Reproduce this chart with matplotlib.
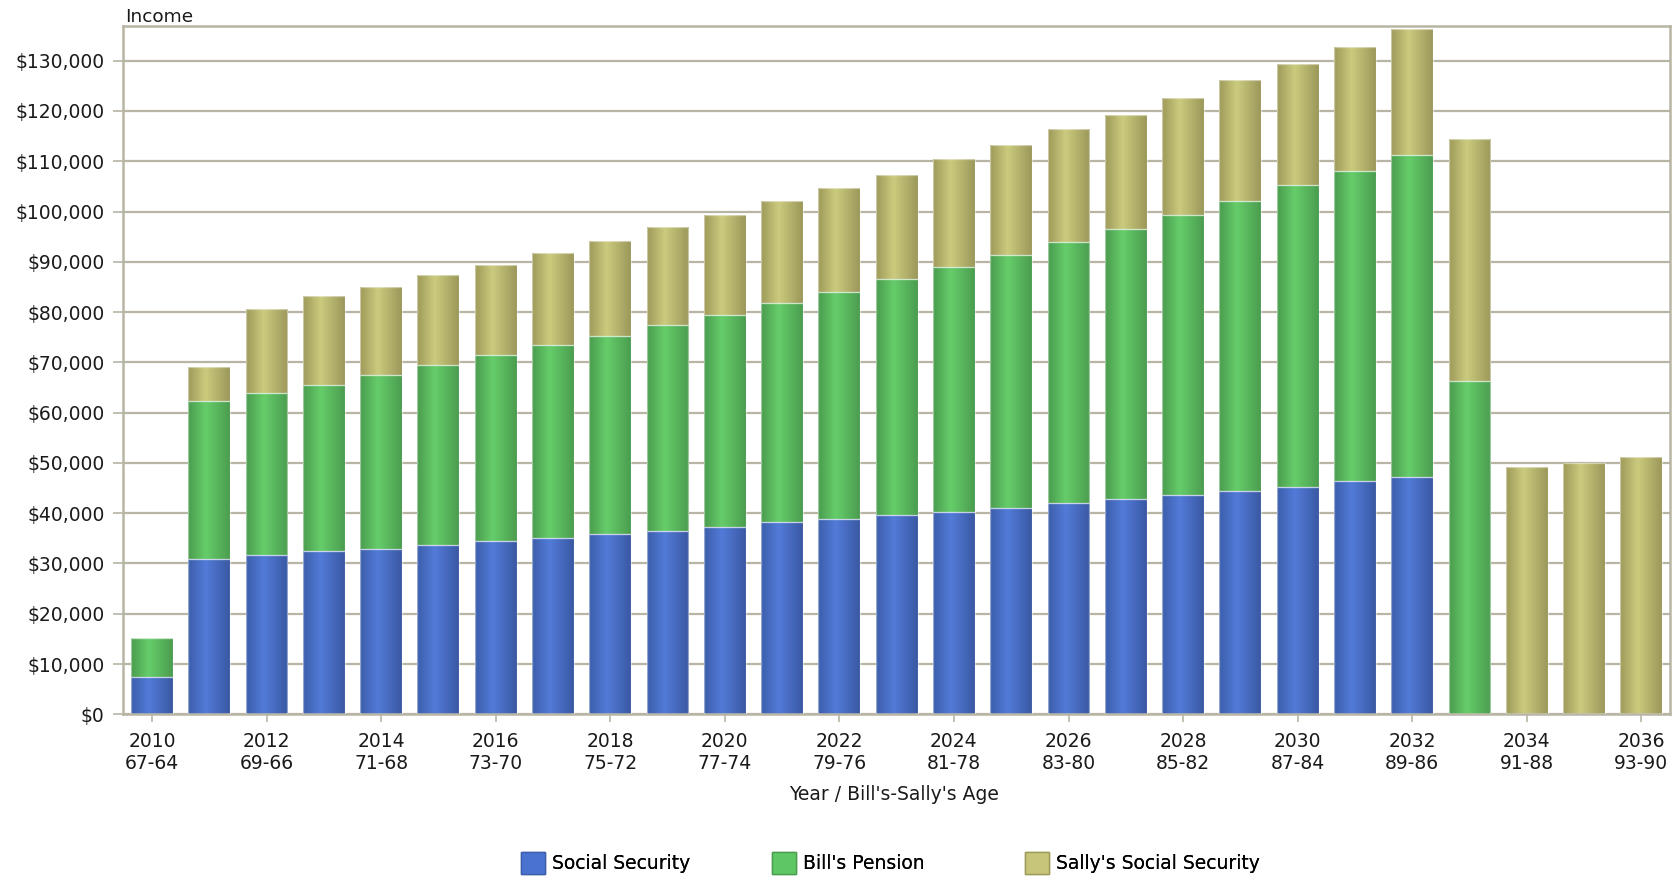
import numpy as np
import matplotlib
matplotlib.use("Agg")
import matplotlib.pyplot as plt
from matplotlib.colors import LinearSegmentedColormap
from matplotlib.patches import Patch

years = list(range(2010, 2037))
ages = ["67-64", "68-65", "69-66", "70-67", "71-68", "72-69", "73-70", "74-71", "75-72",
        "76-73", "77-74", "78-75", "79-76", "80-77", "81-78", "82-79", "83-80", "84-81",
        "85-82", "86-83", "87-84", "88-85", "89-86", "90-87", "91-88", "92-89", "93-90"]

social_security = [7400, 30900, 31700, 32500, 32900, 33700, 34500, 35000, 35800, 36500,
                   37300, 38200, 38800, 39600, 40300, 41100, 42000, 42800, 43600, 44400,
                   45200, 46400, 47200, 0, 0, 0, 0]
bills_pension = [7700, 31500, 32250, 33000, 34600, 35800, 37000, 38400, 39500, 40900,
                 42200, 43700, 45200, 46900, 48600, 50300, 52000, 53700, 55700, 57700,
                 60100, 61700, 64100, 66300, 0, 0, 0]
sallys_ss = [0, 6700, 16650, 17600, 17500, 17900, 17800, 18400, 18900, 19500,
             19800, 20100, 20600, 20800, 21600, 21900, 22400, 22700, 23200, 24000,
             24000, 24700, 25100, 48200, 49200, 50000, 51200]

series_names = ["Social Security", "Bill's Pension", "Sally's Social Security"]

# (left edge, highlight, right edge) for the cylinder-style shading
shades = [("#3c5eab", "#527bd8", "#3a59a4"),
          ("#4a9c4e", "#66cd6a", "#4b9d4f"),
          ("#9e9a5a", "#cbcb7e", "#9b985a")]
legend_colors = ["#4a72d0", "#5ec663", "#c6c57a"]
legend_x = [521, 772, 1025]  # left edge of each legend entry, in pixels

grid_col = "#b8b5a4"

fig = plt.figure(figsize=(16.75, 8.77), dpi=100)
ax = fig.add_axes([123.3 / 1675, 1 - 714.3 / 877, (1670 - 123.3) / 1675, (714.3 - 26) / 877])

x = np.arange(len(years))
grad = np.linspace(0, 1, 64).reshape(1, -1)
bottom = np.zeros(len(years))
for vals, (c0, c1, c2) in zip([social_security, bills_pension, sallys_ss], shades):
    cmap = LinearSegmentedColormap.from_list("shade", [(0, c0), (0.42, c1), (1, c2)])
    bars = ax.bar(x, vals, width=0.73, bottom=bottom, facecolor="none",
                  edgecolor=(1, 1, 1, 0.45), linewidth=0.9, zorder=3)
    for patch, v in zip(bars.patches, vals):
        if v <= 0:
            continue
        x0, y0 = patch.get_x(), patch.get_y()
        im = ax.imshow(grad, cmap=cmap, aspect="auto", zorder=2,
                       extent=[x0, x0 + patch.get_width(), y0, y0 + patch.get_height()])
        im.set_clip_path(patch)
    bottom = bottom + np.array(vals)

ax.set_xlim(-0.5, len(years) - 0.5)
ax.set_ylim(0, 136900)

yt = np.arange(0, 130001, 10000)
ax.set_yticks(yt)
ax.set_yticklabels(["${:,}".format(v) for v in yt])
ax.set_xticks(x[::2])
ax.set_xticklabels(["{}\n{}".format(y, a) for y, a in zip(years[::2], ages[::2])])

ax.set_axisbelow(True)
ax.grid(axis="y", color=grid_col, linewidth=1.6, zorder=0)
for s in ax.spines.values():
    s.set_color(grid_col)
    s.set_linewidth(1.8)
ax.tick_params(axis="y", length=7.5, width=1.2, color=grid_col, pad=6, labelsize=13.5, labelcolor="#1a1a1a")
ax.tick_params(axis="x", length=5.5, width=1.2, color=grid_col, pad=7, labelsize=13.5, labelcolor="#1a1a1a")

fig.text(125 / 1675, 1 - 22 / 877, "Income", fontsize=13.3, color="#1a1a1a", va="baseline", ha="left")
fig.text(894.5 / 1675, 1 - 795 / 877, "Year / Bill's-Sally's Age", fontsize=13.5,
         color="#1a1a1a", ha="center", va="center")

# one legend per entry so the columns sit on a fixed grid
for name, c, s, lx in zip(series_names, legend_colors, shades, legend_x):
    h = Patch(facecolor=c, edgecolor=s[0], linewidth=1.0)
    leg = fig.legend([h], [name], loc="center left", bbox_to_anchor=(lx / 1675, 1 - 863 / 877),
                     frameon=False, fontsize=13.5, handlelength=1.3, handleheight=1.37,
                     handletextpad=0.35, borderpad=0, borderaxespad=0)
    fig.add_artist(leg)

fig.savefig("out.png", dpi=100)
